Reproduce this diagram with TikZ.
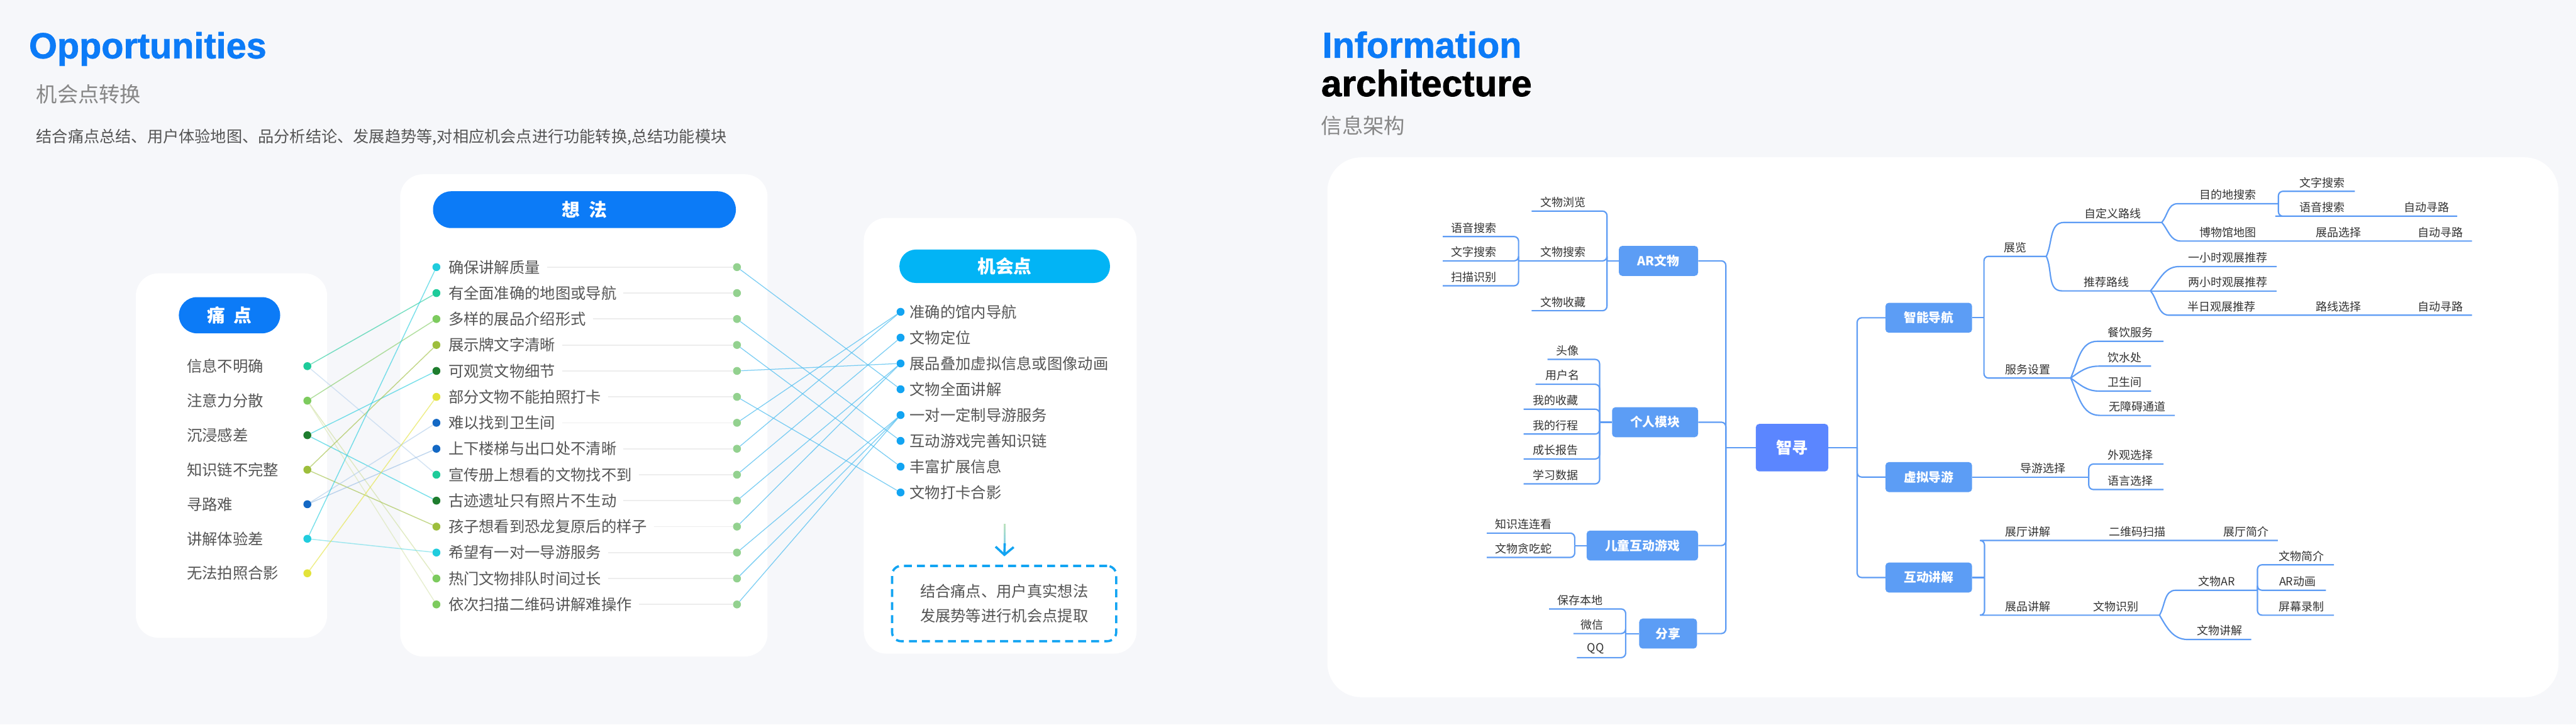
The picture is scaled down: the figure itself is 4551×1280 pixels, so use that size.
\documentclass[tikz,border=0pt]{standalone}
\usepackage{fontspec}
\setmainfont{Noto Sans CJK SC}
\newfontfamily\headfont{Liberation Sans}[BoldFeatures={FakeBold=1.2}]
\usetikzlibrary{arrows.meta}

\definecolor{pageBg}{RGB}{246,247,250}
\definecolor{pillBlue}{RGB}{12,123,247}
\definecolor{pillCyan}{RGB}{2,180,245}
\definecolor{ink}{RGB}{85,85,85}
\definecolor{mapInk}{RGB}{51,51,51}
\definecolor{subGray}{RGB}{135,135,135}
\definecolor{cTeal}{RGB}{29,203,154}
\definecolor{cLime}{RGB}{125,203,94}
\definecolor{cDark}{RGB}{30,125,46}
\definecolor{cOlive}{RGB}{157,190,60}
\definecolor{cBlue}{RGB}{19,104,196}
\definecolor{cCyan}{RGB}{32,204,221}
\definecolor{cYellow}{RGB}{227,227,58}
\definecolor{ideaDot}{RGB}{147,209,143}
\definecolor{oppDot}{RGB}{18,164,242}
\definecolor{oppLine}{RGB}{80,190,240}
\definecolor{mapLine}{RGB}{94,156,244}
\definecolor{mapNode}{RGB}{92,157,245}
\definecolor{rootNode}{RGB}{91,134,255}

\begin{document}
\begin{tikzpicture}[x=1pt, y=-1pt,
    pill/.style={fill=#1, text=white, inner sep=0, font=\fontsize{32}{36}\selectfont\bfseries},
    item/.style={anchor=west, text=ink, inner sep=0, font=\fontsize{27}{32}\selectfont},
    dot/.style={circle, fill=#1, inner sep=0, minimum size=14},
    pline/.style={line width=1.6, draw=#1, draw opacity=0.6},
    oline/.style={line width=1.4, draw=oppLine, draw opacity=0.75},
    faint/.style={line width=2, draw=black!7},
    l1/.style={fill=mapNode, text=white, rounded corners=6, minimum height=53, inner sep=0, font=\fontsize{22}{26}\selectfont\bfseries},
    leaf/.style={anchor=south, text=mapInk, inner xsep=0, inner ysep=6, font=\fontsize{20}{24}\selectfont},
    link/.style={line width=2.4, draw=mapLine, rounded corners=8},
    curve/.style={line width=2.4, draw=mapLine}
  ]
  \useasboundingbox (0,0) rectangle (4551,1280);
  \fill[pageBg] (0,0) rectangle (4551,1280);

  % Titles
  \node[anchor=base west, inner sep=0, text=pillBlue, font=\headfont\fontsize{64}{70}\selectfont\bfseries] (opptitle) at (51,103) {Opportunities};
  \node[anchor=west, inner sep=0, text=subGray, font=\fontsize{37}{42}\selectfont] (oppsub) at (64,167) {机会点转换};
  \node[anchor=west, inner sep=0, text=ink, font=\fontsize{28}{32}\selectfont] (oppdesc) at (64,242) {结合痛点总结、用户体验地图、品分析结论、发展趋势等,对相应机会点进行功能转换,总结功能模块};
  \node[anchor=base west, inner sep=0, text=pillBlue, font=\headfont\fontsize{64}{70}\selectfont\bfseries] (infotitle) at (2336,102) {Information};
  \node[anchor=base west, inner sep=0, text=black, font=\headfont\fontsize{65}{70}\selectfont\bfseries] (archtitle) at (2334,170) {architecture};
  \node[anchor=west, inner sep=0, text=subGray, font=\fontsize{37}{42}\selectfont] (infosub) at (2334,222) {信息架构};

  % Panels
  \fill[white, rounded corners=40] (240,483) rectangle (578,1127);
  \fill[white, rounded corners=40] (707,308) rectangle (1356,1160);
  \fill[white, rounded corners=40] (1526,385) rectangle (2008,1155);
  \fill[white, rounded corners=60] (2345,278) rectangle (4520,1232);

  % Pain points
  \node[pill=pillBlue, rounded corners=32, minimum width=179, minimum height=64] (tdpill) at (405.5,557) {痛\hspace{0.45em}点};
  \foreach \txt/\col [count=\i] in {信息不明确/cTeal, 注意力分散/cLime, 沉浸感差/cDark, 知识链不完整/cOlive, 寻路难/cBlue, 讲解体验差/cCyan, 无法拍照合影/cYellow}{
    \node[item] (pt\i) at (330,{647+61*(\i-1)}) {\txt};
    \node[dot=\col] (pd\i) at (543,{647+61*(\i-1)}) {};
  }

  % Ideas
  \node[pill=pillBlue, rounded corners=32, minimum width=535, minimum height=65] (xfpill) at (1032.5,370.5) {想\hspace{0.5em}法};
  \foreach \txt/\col [count=\i] in {确保讲解质量/cCyan, 有全面准确的地图或导航/cTeal, 多样的展品介绍形式/cLime, 展示牌文字清晰/cOlive, 可观赏文物细节/cDark, 部分文物不能拍照打卡/cYellow, 难以找到卫生间/cBlue, 上下楼梯与出口处不清晰/cBlue, 宣传册上想看的文物找不到/cTeal, 古迹遗址只有照片不生动/cDark, 孩子想看到恐龙复原后的样子/cOlive, 希望有一对一导游服务/cCyan, 热门文物排队时间过长/cLime, 依次扫描二维码讲解难操作/cLime}{
    \node[dot=\col] (il\i) at (771,{472+45.85*(\i-1)}) {};
    \node[item] (it\i) at (792,{472+45.85*(\i-1)}) {\txt};
    \node[dot=ideaDot] (ir\i) at (1302,{472+45.85*(\i-1)}) {};
    \draw[faint, shorten <=12] (it\i) -- (ir\i);
  }

  % Opportunities
  \node[pill=pillCyan, rounded corners=29, minimum width=372, minimum height=59] (jhpill) at (1775,470.5) {机会点};
  \foreach \txt [count=\i] in {准确的馆内导航, 文物定位, 展品叠加虚拟信息或图像动画, 文物全面讲解, 一对一定制导游服务, 互动游戏完善知识链, 丰富扩展信息, 文物打卡合影}{
    \node[dot=oppDot] (od\i) at (1591,{551+45.6*(\i-1)}) {};
    \node[item] (ot\i) at (1607,{551+45.6*(\i-1)}) {\txt};
  }

  % Pain -> idea
  \foreach \a/\b/\col in {1/2/cTeal, 1/9/cBlue!30, 2/3/cLime, 2/13/cOlive!50, 2/14/cOlive!40, 3/5/cCyan, 3/10/cCyan, 4/4/cOlive, 4/11/cOlive, 5/7/cBlue!35, 5/8/cBlue!45, 6/1/cCyan, 6/12/cCyan!70, 7/6/cYellow}
    \draw[pline=\col] (pd\a) -- (il\b);

  % Idea -> opportunity
  \foreach \a/\b in {1/4, 3/6, 4/7, 5/3, 6/8, 7/1, 8/1, 9/2, 10/3, 11/3, 12/5, 13/5, 14/5}
    \draw[oline] (ir\a) -- (od\b);

  % Summary
  \node[draw=oppDot, line width=4, dash pattern=on 14pt off 9pt, rounded corners=16, minimum width=396, minimum height=133, align=center, text=ink, font=\fontsize{27}{44}\selectfont] (summary) at (1774,1066.5) {结合痛点、用户真实想法\\发展势等进行机会点提取};
  \coordinate (arrtop) at (1775,926);
  \coordinate (arrmid) at (1775,960);
  \foreach \k in {0,...,6}
    \draw[line width=4, draw=oppDot!\k5!ideaDot!60!white] (1775,{926+5*\k}) -- (1775,{932+5*\k});
  \draw[line width=4, oppDot, -{Straight Barb[length=14pt, width=32pt, line width=4pt]}, shorten >=15] (arrmid) -- (summary.north);

  % Mind map: main nodes
  \node[fill=rootNode, text=white, rounded corners=6, minimum width=128, minimum height=84, inner sep=0, font=\fontsize{28}{32}\selectfont\bfseries] (root) at (3166,791) {智寻};
  \node[l1, minimum width=140] (arwm) at (2930,461) {AR文物};
  \node[l1, minimum width=152] (grmk) at (2924,746) {个人模块};
  \node[l1, minimum width=197] (etyx) at (2901.5,964) {儿童互动游戏};
  \node[l1, minimum width=102] (fx) at (2947,1119.5) {分享};
  \node[l1, minimum width=153] (zndh) at (3407.5,561.5) {智能导航};
  \node[l1, minimum width=153] (xndy) at (3407.5,843) {虚拟导游};
  \node[l1, minimum width=153] (hdjj) at (3407.5,1020.5) {互动讲解};

  \coordinate (ltrunk) at (3049,791);
  \coordinate (rtrunk) at (3281,791);
  \draw[link] (root.west) -- (ltrunk);
  \foreach \n in {arwm, grmk, etyx, fx} \draw[link] (ltrunk) |- (\n.east);
  \draw[link] (root.east) -- (rtrunk);
  \foreach \n in {zndh, xndy, hdjj} \draw[link] (rtrunk) |- (\n.west);

  % AR文物
  \coordinate (arj) at (2839,461);
  \draw[link] (arwm.west) -- (arj);
  \node[leaf, minimum width=112] (wwll) at (2762,373) {文物浏览};
  \node[leaf, minimum width=158] (wwss) at (2762,461) {文物搜索};
  \node[leaf, minimum width=112] (wwsc) at (2762,549) {文物收藏};
  \foreach \n in {wwll, wwss, wwsc} \draw[link] (arj) |- (\n.south west);
  \node[leaf, minimum width=110] (yyss) at (2604,418) {语音搜索};
  \node[leaf, minimum width=110] (wzss) at (2604,461) {文字搜索};
  \node[leaf, minimum width=110] (smsb) at (2604,505) {扫描识别};
  \foreach \n in {yyss, wzss, smsb} \draw[link] (wwss.south west) |- (\n.south west);

  % 个人模块
  \coordinate (grj) at (2826,746);
  \draw[link] (grmk.west) -- (grj);
  \node[leaf, minimum width=70] (tx) at (2769,635) {头像};
  \node[leaf, minimum width=94] (yhm) at (2760,679) {用户名};
  \node[leaf, minimum width=112] (wdsc) at (2748,723) {我的收藏};
  \node[leaf, minimum width=112] (wdxc) at (2748,767) {我的行程};
  \node[leaf, minimum width=112] (czbg) at (2748,811) {成长报告};
  \node[leaf, minimum width=112] (xxsj) at (2748,855) {学习数据};
  \foreach \n in {tx, yhm, wdsc, wdxc, czbg, xxsj} \draw[link] (grj) |- (\n.south west);

  % 儿童互动游戏
  \coordinate (etj) at (2782,964);
  \draw[link] (etyx.west) -- (etj);
  \node[leaf, minimum width=130] (zslk) at (2692,942) {知识连连看};
  \node[leaf, minimum width=130] (wwtcs) at (2692,985) {文物贪吃蛇};
  \foreach \n in {zslk, wwtcs} \draw[link] (etj) |- (\n.south west);

  % 分享
  \coordinate (fxj) at (2872,1119.5);
  \draw[link] (fx.west) -- (fxj);
  \node[leaf, minimum width=110] (bcbd) at (2792,1076) {保存本地};
  \node[leaf, minimum width=66] (wx) at (2813,1119.5) {微信};
  \node[leaf, minimum width=66] (qq) at (2819,1162) {QQ};
  \foreach \n in {bcbd, wx, qq} \draw[link] (fxj) |- (\n.south west);

  % 智能导航
  \coordinate (dhj) at (3505,561.5);
  \draw[link] (zndh.east) -- (dhj);
  \node[leaf, minimum width=110] (zl) at (3560,453) {展览};
  \node[leaf, minimum width=150] (fwsz) at (3583,668) {服务设置};
  \foreach \n in {zl, fwsz} \draw[link] (dhj) |- (\n.south east);

  \node[leaf, minimum width=172] (zdylx) at (3733,393) {自定义路线};
  \node[leaf, minimum width=156] (tjlx) at (3721,514) {推荐路线};
  \draw[curve] (zl.south east) to[out=65, in=180] (zdylx.south west) -- (zdylx.south east);
  \draw[curve] (zl.south east) to[out=-65, in=180] (tjlx.south west) -- (tjlx.south east);

  \node[leaf, minimum width=178] (mddss) at (3936,360) {目的地搜索};
  \node[leaf, minimum width=166] (bwgdt) at (3936,426) {博物馆地图};
  \node[leaf] (zpxz) at (4132,426) {展品选择};
  \node[leaf, minimum width=110] (zdxl1) at (4312,426) {自动寻路};
  \draw[curve] (zdylx.south east) to[out=50, in=180] (mddss.south west) -- (mddss.south east);
  \draw[curve] (zdylx.south east) to[out=-50, in=180] (bwgdt.south west) -- (zpxz.south) -- (zdxl1.south east);

  \node[leaf, minimum width=114] (wzss2) at (4103,338) {文字搜索};
  \node[leaf, minimum width=150] (yyss2) at (4103,382) {语音搜索};
  \node[leaf, minimum width=108] (zdxl2) at (4287,382) {自动寻路};
  \draw[link] (mddss.south east) |- (wzss2.south west) -- (wzss2.south east);
  \draw[link] (mddss.south east) |- (yyss2.south west) -- (zdxl2.south east);

  \node[leaf, minimum width=172] (yxs) at (3936,471) {一小时观展推荐};
  \node[leaf, minimum width=172] (lxs) at (3936,514) {两小时观展推荐};
  \node[leaf, minimum width=184] (brgz) at (3925,557) {半日观展推荐};
  \node[leaf] (lxxz) at (4132,557) {路线选择};
  \node[leaf, minimum width=110] (zdxl3) at (4312,557) {自动寻路};
  \draw[curve] (tjlx.south east) to[out=50, in=180] (yxs.south west) -- (yxs.south east);
  \draw[curve] (tjlx.south east) -- (lxs.south east);
  \draw[curve] (tjlx.south east) to[out=-50, in=180] (brgz.south west) -- (lxxz.south) -- (zdxl3.south east);

  \node[leaf, minimum width=116] (cyfw) at (3764,603) {餐饮服务};
  \node[leaf, minimum width=92] (ysc) at (3754,647) {饮水处};
  \node[leaf, minimum width=92] (wsj) at (3754,691) {卫生间};
  \node[leaf, minimum width=132] (wzatd) at (3776,734) {无障碍通道};
  \foreach \n/\a in {cyfw/65, ysc/35, wsj/-35, wzatd/-65}
    \draw[curve] (fwsz.south east) to[out=\a, in=180] (\n.south west) -- (\n.south east);

  % 虚拟导游
  \node[leaf, minimum width=162] (dyxz) at (3609,843) {导游选择};
  \draw[link] (xndy.east) -- (dyxz.south east);
  \node[leaf, minimum width=116] (wgxz) at (3764,820) {外观选择};
  \node[leaf, minimum width=116] (yyxz) at (3764,865) {语言选择};
  \foreach \n in {wgxz, yyxz} \draw[link] (dyxz.south east) |- (\n.south west) -- (\n.south east);

  % 互动讲解
  \coordinate (jjj) at (3506,1020.5);
  \draw[link] (hdjj.east) -- (jjj);
  \node[leaf, minimum width=154] (ztjj) at (3583,955) {展厅讲解};
  \node[leaf] (ewmsm) at (3776,955) {二维码扫描};
  \node[leaf, minimum width=112] (ztjg) at (3968,955) {展厅简介};
  \draw[link] (jjj) |- (ztjj.south west) -- (ewmsm.south) -- (ztjg.south east);
  \node[leaf, minimum width=154] (zpjj) at (3583,1087) {展品讲解};
  \node[leaf, minimum width=154] (wwsb) at (3738,1087) {文物识别};
  \draw[link] (jjj) |- (zpjj.south west) -- (wwsb.south east);

  \node[leaf, minimum width=144] (wwar) at (3916,1043) {文物AR};
  \node[leaf, minimum width=112] (wwjj) at (3921,1130) {文物讲解};
  \draw[curve] (wwsb.south east) to[out=60, in=180] (wwar.south west) -- (wwar.south east);
  \draw[curve] (wwsb.south east) to[out=-60, in=180] (wwjj.south west) -- (wwjj.south east);

  \node[leaf, minimum width=114] (wwjg) at (4066,998) {文物简介};
  \node[leaf, minimum width=100] (ardh) at (4059,1043) {AR动画};
  \node[leaf, minimum width=114] (pmlz) at (4066,1087) {屏幕录制};
  \foreach \n in {wwjg, ardh, pmlz} \draw[link] (wwar.south east) |- (\n.south west) -- (\n.south east);
\end{tikzpicture}
\end{document}
